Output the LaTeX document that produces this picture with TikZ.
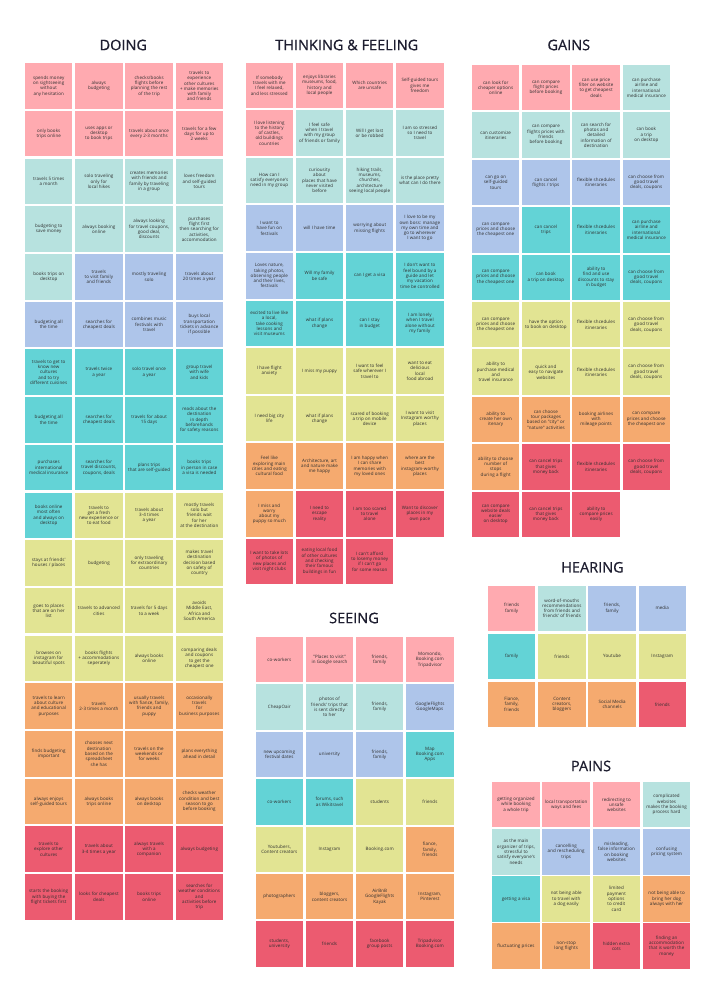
\documentclass[tikz,border=0pt]{standalone}
\usepackage{fontspec}
\setmainfont{Open Sans}
\newfontfamily\stickyfont[LetterSpace=1.5]{Open Sans}
\newfontfamily\titlefont[FakeBold=0.6]{Open Sans}
\definecolor{cpink}{HTML}{FFAAB0}
\definecolor{cmint}{HTML}{B7E2DF}
\definecolor{cblue}{HTML}{AEC5EA}
\definecolor{ccyan}{HTML}{63D3D6}
\definecolor{cyel}{HTML}{E2E493}
\definecolor{corg}{HTML}{F5AA6F}
\definecolor{cred}{HTML}{EC5B70}
\definecolor{ctxt}{HTML}{2E2E2E}
\definecolor{ctitle}{HTML}{1E1E30}
\tikzset{
  sticky/.style={minimum width=47.5pt, minimum height=45.5pt, inner sep=0pt, align=center,
    font=\stickyfont\fontsize{4.5}{5.3}\selectfont, text=ctxt},
  sectitle/.style={font=\titlefont\fontsize{14.5}{17}\selectfont, text=ctitle, inner sep=0pt}
}
\newcommand\stk[5]{\node[sticky, fill=#4] (#1) at ({\ox+50.2*#2},{\oy+\py*#3}) {#5};}
\begin{document}
\begin{tikzpicture}[x=1pt,y=-1pt]
\useasboundingbox[fill=white] (0,0) rectangle (727,1001);
% titles
\node[sectitle] (tdoing) at (123.3,45) {DOING};
\node[sectitle] (tthink) at (346.8,45) {THINKING \& FEELING};
\node[sectitle] (tgains) at (568.8,45) {GAINS};
\node[sectitle] (thear) at (592.5,567.3) {HEARING};
\node[sectitle] (tsee) at (354,618) {SEEING};
\node[sectitle] (tpains) at (591,766) {PAINS};
% ================= DOING
\def\ox{48.7}\def\oy{86}\def\py{47.7}
\stk{d0a}{0}{0}{cpink}{spends money\\on sightseeing\\without\\any hesitation}
\stk{d0b}{1}{0}{cpink}{always\\budgeting}
\stk{d0c}{2}{0}{cpink}{checks/books\\flights before\\planning the rest\\of the trip}
\stk{d0d}{3}{0}{cpink}{travels to\\experience\\other cultures\\+ make memories\\with family\\and friends}
\stk{d1a}{0}{1}{cpink}{only books\\trips online}
\stk{d1b}{1}{1}{cpink}{uses apps or\\desktop\\to book trips}
\stk{d1c}{2}{1}{cpink}{travels about once\\every 2-3 months}
\stk{d1d}{3}{1}{cpink}{travels for a few\\days for up to\\2 weeks}
\stk{d2a}{0}{2}{cmint}{travels 5 times\\a month}
\stk{d2b}{1}{2}{cmint}{solo traveling\\only for\\local hikes}
\stk{d2c}{2}{2}{cmint}{creates memories\\with friends and\\family by traveling\\in a group}
\stk{d2d}{3}{2}{cmint}{loves freedom\\and self-guided\\tours}
\stk{d3a}{0}{3}{cmint}{budgeting to\\save money}
\stk{d3b}{1}{3}{cmint}{always booking\\online}
\stk{d3c}{2}{3}{cmint}{always looking\\for travel coupons,\\good deal,\\discounts}
\stk{d3d}{3}{3}{cmint}{purchases\\flight first\\then searching for\\activities,\\accommodation}
\stk{d4a}{0}{4}{cmint}{books trips on\\desktop}
\stk{d4b}{1}{4}{cblue}{travels\\to visit family\\and friends}
\stk{d4c}{2}{4}{cblue}{mostly traveling\\solo}
\stk{d4d}{3}{4}{cblue}{travels about\\20 times a year}
\stk{d5a}{0}{5}{cblue}{budgeting all\\the time}
\stk{d5b}{1}{5}{cblue}{searches for\\cheapest deals}
\stk{d5c}{2}{5}{cblue}{combines music\\festivals with\\travel}
\stk{d5d}{3}{5}{cblue}{buys local\\transportation\\tickets in advance\\if possible}
\stk{d6a}{0}{6}{ccyan}{travels to get to\\know new\\cultures\\and to try\\different cuisines}
\stk{d6b}{1}{6}{ccyan}{travels twice\\a year}
\stk{d6c}{2}{6}{ccyan}{solo travel once\\a year}
\stk{d6d}{3}{6}{ccyan}{group travel\\with wife\\and kids}
\stk{d7a}{0}{7}{ccyan}{budgeting all\\the time}
\stk{d7b}{1}{7}{ccyan}{searches for\\cheapest deals}
\stk{d7c}{2}{7}{ccyan}{travels for about\\15 days}
\stk{d7d}{3}{7}{ccyan}{reads about the\\destination\\in depth\\beforehands\\for safety reasons}
\stk{d8a}{0}{8}{ccyan}{purchases\\international\\medical insurance}
\stk{d8b}{1}{8}{ccyan}{searches for\\travel discounts,\\coupons, deals}
\stk{d8c}{2}{8}{ccyan}{plans trips\\that are self-guided}
\stk{d8d}{3}{8}{ccyan}{books trips\\in person in case\\a visa is needed}
\stk{d9a}{0}{9}{ccyan}{books online\\most often\\and always on\\desktop}
\stk{d9b}{1}{9}{cyel}{travels to\\get a fresh\\new experience or\\to eat food}
\stk{d9c}{2}{9}{cyel}{travels about\\3-4 times\\a year}
\stk{d9d}{3}{9}{cyel}{mostly travels\\solo but\\friends wait\\for her\\at the destination}
\stk{d10a}{0}{10}{cyel}{stays at friends'\\houses / places}
\stk{d10b}{1}{10}{cyel}{budgeting}
\stk{d10c}{2}{10}{cyel}{only traveling\\for extraordinary\\countries}
\stk{d10d}{3}{10}{cyel}{makes travel\\destination\\decision based\\on safety of\\country}
\stk{d11a}{0}{11}{cyel}{goes to places\\that are on her\\list}
\stk{d11b}{1}{11}{cyel}{travels to advanced\\cities}
\stk{d11c}{2}{11}{cyel}{travels for 5 days\\to a week}
\stk{d11d}{3}{11}{cyel}{avoids\\Middle East,\\Africa and\\South America}
\stk{d12a}{0}{12}{cyel}{browses on\\instagram for\\beautiful spots}
\stk{d12b}{1}{12}{cyel}{books flights\\+ accommodations\\seperately}
\stk{d12c}{2}{12}{cyel}{always books\\online}
\stk{d12d}{3}{12}{cyel}{comparing deals\\and coupons\\to get the\\cheapest one}
\stk{d13a}{0}{13}{corg}{travels to learn\\about culture\\and educational\\purposes}
\stk{d13b}{1}{13}{corg}{travels\\2-3 times a month}
\stk{d13c}{2}{13}{corg}{usually travels\\with fiance, family,\\friends and\\puppy}
\stk{d13d}{3}{13}{corg}{occasionally\\travels\\for\\business purposes}
\stk{d14a}{0}{14}{corg}{finds budgeting\\important}
\stk{d14b}{1}{14}{corg}{chooses next\\destination\\based on the\\spreadsheet\\she has}
\stk{d14c}{2}{14}{corg}{travels on the\\weekends or\\for weeks}
\stk{d14d}{3}{14}{corg}{plans everything\\ahead in detail}
\stk{d15a}{0}{15}{corg}{always enjoys\\self-guided tours}
\stk{d15b}{1}{15}{corg}{always books\\trips online}
\stk{d15c}{2}{15}{corg}{always books\\on desktop}
\stk{d15d}{3}{15}{corg}{checks weather\\condition and best\\season to go\\before booking}
\stk{d16a}{0}{16}{cred}{travels to\\explore other\\cultures}
\stk{d16b}{1}{16}{cred}{travels about\\3-4 times a year}
\stk{d16c}{2}{16}{cred}{always travels\\with a\\companion}
\stk{d16d}{3}{16}{cred}{always budgeting}
\stk{d17a}{0}{17}{cred}{starts the booking\\with buying the\\flight tickets first}
\stk{d17b}{1}{17}{cred}{looks for cheapest\\deals}
\stk{d17c}{2}{17}{cred}{books trips\\online}
\stk{d17d}{3}{17}{cred}{searches for\\weather conditions\\and\\activities before\\trip}
% ================= THINKING & FEELING
\def\ox{269.3}\def\oy{85.4}\def\py{47.6}
\stk{t0a}{0}{0}{cpink}{If somebody\\travels with me\\I feel relaxed,\\and less stressed}
\stk{t0b}{1}{0}{cpink}{enjoys libraries\\museums, food,\\history and\\local people}
\stk{t0c}{2}{0}{cpink}{Which countries\\are unsafe}
\stk{t0d}{3}{0}{cpink}{Self-guided tours\\gives me\\freedom}
\stk{t1a}{0}{1}{cpink}{I love listening\\to the history\\of castles,\\old buildings\\countries}
\stk{t1b}{1}{1}{cmint}{I feel safe\\when I travel\\with my group\\of friends or family}
\stk{t1c}{2}{1}{cmint}{Will I get lost\\or be robbed}
\stk{t1d}{3}{1}{cmint}{I am so stressed\\so I need to\\travel}
\stk{t2a}{0}{2}{cmint}{How can I\\satisfy everyone's\\need in my group}
\stk{t2b}{1}{2}{cmint}{curiousity\\about\\places that have\\never visited\\before}
\stk{t2c}{2}{2}{cmint}{hiking trails,\\museums,\\churches,\\architecture\\seeing local people}
\stk{t2d}{3}{2}{cmint}{is the place pretty\\what can I do there}
\stk{t3a}{0}{3}{cblue}{I want to\\have fun on\\festivals}
\stk{t3b}{1}{3}{cblue}{will I have time}
\stk{t3c}{2}{3}{cblue}{worrying about\\missing flights}
\stk{t3d}{3}{3}{cblue}{I love to be my\\own boss: manage\\my own time and\\go to wherever\\I want to go}
\stk{t4a}{0}{4}{cblue}{Loves nature,\\taking photos,\\observing people\\and their lives,\\festivals}
\stk{t4b}{1}{4}{ccyan}{Will my family\\be safe}
\stk{t4c}{2}{4}{ccyan}{can I get a visa}
\stk{t4d}{3}{4}{ccyan}{I don't want to\\feel bound by a\\guide and let\\my vacation\\time be controlled}
\stk{t5a}{0}{5}{ccyan}{excited to live like\\a local,\\take cooking\\lessons and\\visit museums}
\stk{t5b}{1}{5}{ccyan}{what if plans\\change}
\stk{t5c}{2}{5}{ccyan}{can I stay\\in budget}
\stk{t5d}{3}{5}{ccyan}{I am lonely\\when I travel\\alone without\\my family}
\stk{t6a}{0}{6}{cyel}{I have flight\\anxiety}
\stk{t6b}{1}{6}{cyel}{I miss my puppy}
\stk{t6c}{2}{6}{cyel}{I want to feel\\safe wherever I\\travel to}
\stk{t6d}{3}{6}{cyel}{want to eat\\delicious\\local\\food abroad}
\stk{t7a}{0}{7}{cyel}{I need big city\\life}
\stk{t7b}{1}{7}{cyel}{what if plans\\change}
\stk{t7c}{2}{7}{cyel}{scared of booking\\a trip on mobile\\device}
\stk{t7d}{3}{7}{cyel}{I want to visit\\Instagram worthy\\places}
\stk{t8a}{0}{8}{corg}{Feel like\\exploring main\\cities and eating\\cultural food}
\stk{t8b}{1}{8}{corg}{Architecture, art\\and nature make\\me happy}
\stk{t8c}{2}{8}{corg}{I am happy when\\I can share\\memories with\\my loved ones}
\stk{t8d}{3}{8}{corg}{where are the\\best\\instagram-worthy\\places}
\stk{t9a}{0}{9}{corg}{I miss and\\worry\\about my\\puppy so much}
\stk{t9b}{1}{9}{cred}{I need to\\escape\\reality}
\stk{t9c}{2}{9}{cred}{I am too scared\\to travel\\alone}
\stk{t9d}{3}{9}{cred}{Want to discover\\places in my\\own pace}
\stk{t10a}{0}{10}{cred}{I want to take lots\\of photos of\\new places and\\visit night clubs}
\stk{t10b}{1}{10}{cred}{eating local food\\of other cultures\\and checking\\their famous\\buildings in fun}
\stk{t10c}{2}{10}{cred}{I can't afford\\to losemy money\\if I can't go\\for some reason}
% ================= GAINS
\def\ox{495.7}\def\oy{87.7}\def\py{47.4}
\stk{g0a}{0}{0}{cpink}{can look for\\cheaper options\\online}
\stk{g0b}{1}{0}{cpink}{can compare\\flight prices\\before booking}
\stk{g0c}{2}{0}{cpink}{can use price\\filter on website\\to get cheapest\\deals}
\stk{g0d}{3}{0}{cmint}{can purchase\\airline and\\international\\medical insurance}
\stk{g1a}{0}{1}{cmint}{can customize\\itineraries}
\stk{g1b}{1}{1}{cmint}{can compare\\flights prices with\\friends\\before booking}
\stk{g1c}{2}{1}{cmint}{can search for\\photos and\\detailed\\information of\\destination}
\stk{g1d}{3}{1}{cmint}{can book\\a trip\\on desktop}
\stk{g2a}{0}{2}{cblue}{can go on\\self-guided\\tours}
\stk{g2b}{1}{2}{cblue}{can cancel\\flights / trips}
\stk{g2c}{2}{2}{cblue}{flexible shcedules\\itineraries}
\stk{g2d}{3}{2}{cblue}{can choose from\\good travel\\deals, coupons}
\stk{g3a}{0}{3}{cblue}{can compare\\prices and choose\\the cheapest one}
\stk{g3b}{1}{3}{ccyan}{can cancel\\trips}
\stk{g3c}{2}{3}{ccyan}{flexible shcedules\\itineraries}
\stk{g3d}{3}{3}{ccyan}{can purchase\\airline and\\international\\medical insurance}
\stk{g4a}{0}{4}{ccyan}{can compare\\prices and choose\\the cheapest one}
\stk{g4b}{1}{4}{ccyan}{can book\\a trip on desktop}
\stk{g4c}{2}{4}{ccyan}{ability to\\find and use\\discounts to stay\\in budget}
\stk{g4d}{3}{4}{ccyan}{can choose from\\good travel\\deals, coupons}
\stk{g5a}{0}{5}{cyel}{can compare\\prices and choose\\the cheapest one}
\stk{g5b}{1}{5}{cyel}{have the option\\to book on desktop}
\stk{g5c}{2}{5}{cyel}{flexible shcedules\\itineraries}
\stk{g5d}{3}{5}{cyel}{can choose from\\good travel\\deals, coupons}
\stk{g6a}{0}{6}{cyel}{ability to\\purchase medical\\and\\travel insurance}
\stk{g6b}{1}{6}{cyel}{quick and\\easy to navigate\\websites}
\stk{g6c}{2}{6}{cyel}{flexible shcedules\\itineraries}
\stk{g6d}{3}{6}{cyel}{can choose from\\good travel\\deals, coupons}
\stk{g7a}{0}{7}{corg}{ability to\\create her own\\itenary}
\stk{g7b}{1}{7}{corg}{can choose\\tour packages\\based on "city" or\\"nature" activities}
\stk{g7c}{2}{7}{corg}{booking airlines\\with\\mileage points}
\stk{g7d}{3}{7}{corg}{can compare\\prices and choose\\the cheapest one}
\stk{g8a}{0}{8}{corg}{ability to choose\\number of\\stops\\during a flight}
\stk{g8b}{1}{8}{cred}{can cancel trips\\that gives\\money back}
\stk{g8c}{2}{8}{cred}{flexible shcedules\\itineraries}
\stk{g8d}{3}{8}{cred}{can choose from\\good travel\\deals, coupons}
\stk{g9a}{0}{9}{cred}{can compare\\website deals\\easier\\on desktop}
\stk{g9b}{1}{9}{cred}{can cancel trips\\that gives\\money back}
\stk{g9c}{2}{9}{cred}{ability to\\compare prices\\easily}
% ================= HEARING
\def\ox{511.7}\def\oy{608.3}\def\py{48}
\stk{h0a}{0}{0}{cpink}{friends\\family}
\stk{h0b}{1}{0}{cmint}{word-of-mouths\\recommendations\\from friends and\\friends' of friends}
\stk{h0c}{2}{0}{cblue}{friends,\\family}
\stk{h0d}{3}{0}{cblue}{media}
\stk{h1a}{0}{1}{ccyan}{family}
\stk{h1b}{1}{1}{cyel}{friends}
\stk{h1c}{2}{1}{cyel}{Youtube}
\stk{h1d}{3}{1}{cyel}{Instagram}
\stk{h2a}{0}{2}{corg}{Fiance,\\family,\\friends}
\stk{h2b}{1}{2}{corg}{Content\\creators,\\bloggers}
\stk{h2c}{2}{2}{corg}{Social Media\\channels}
\stk{h2d}{3}{2}{cred}{friends}
% ================= SEEING
\def\ox{279.3}\def\oy{659.7}\def\py{47.4}
\stk{s0a}{0}{0}{cpink}{co-workers}
\stk{s0b}{1}{0}{cpink}{"Places to visit"\\in Google search}
\stk{s0c}{2}{0}{cpink}{friends,\\family}
\stk{s0d}{3}{0}{cpink}{Momondo,\\Booking.com\\Tripadvisor}
\stk{s1a}{0}{1}{cmint}{CheapOair}
\stk{s1b}{1}{1}{cmint}{photos of\\friends' trips that\\is sent directly\\to her}
\stk{s1c}{2}{1}{cmint}{friends,\\family}
\stk{s1d}{3}{1}{cblue}{GoogleFlights\\GoogleMaps}
\stk{s2a}{0}{2}{cblue}{new upcoming\\festival dates}
\stk{s2b}{1}{2}{cblue}{university}
\stk{s2c}{2}{2}{cblue}{friends,\\family}
\stk{s2d}{3}{2}{ccyan}{Map\\Booking.com\\Apps}
\stk{s3a}{0}{3}{ccyan}{co-workers}
\stk{s3b}{1}{3}{ccyan}{forums, such\\as Wikitravel}
\stk{s3c}{2}{3}{cyel}{students}
\stk{s3d}{3}{3}{cyel}{friends}
\stk{s4a}{0}{4}{cyel}{Youtubers,\\Content creators}
\stk{s4b}{1}{4}{cyel}{Instagram}
\stk{s4c}{2}{4}{cyel}{Booking.com}
\stk{s4d}{3}{4}{corg}{fiance,\\family,\\friends}
\stk{s5a}{0}{5}{corg}{photographers}
\stk{s5b}{1}{5}{corg}{bloggers,\\content creators}
\stk{s5c}{2}{5}{corg}{AirBnB\\GoogleFlights\\Kayak}
\stk{s5d}{3}{5}{corg}{Instagram,\\Pinterest}
\stk{s6a}{0}{6}{cred}{students,\\university}
\stk{s6b}{1}{6}{cred}{friends}
\stk{s6c}{2}{6}{cred}{facebook\\group posts}
\stk{s6d}{3}{6}{cred}{Tripadvisor\\Booking.com}
% ================= PAINS
\def\ox{516}\def\oy{804.7}\def\py{47.1}
\stk{p0a}{0}{0}{cpink}{getting organized\\while booking\\a whole trip}
\stk{p0b}{1}{0}{cpink}{local transportation\\ways and fees}
\stk{p0c}{2}{0}{cpink}{redirecting to\\unsafe\\websites}
\stk{p0d}{3}{0}{cmint}{complicated\\websites\\makes the booking\\process hard}
\stk{p1a}{0}{1}{cmint}{as the main\\organizer of trips,\\stressful to\\satisfy everyone's\\needs}
\stk{p1b}{1}{1}{cblue}{cancelling\\and rescheduling\\trips}
\stk{p1c}{2}{1}{cblue}{misleading,\\false information\\on booking\\websites}
\stk{p1d}{3}{1}{cblue}{confusing\\pricing system}
\stk{p2a}{0}{2}{ccyan}{getting a visa}
\stk{p2b}{1}{2}{cyel}{not being able\\to travel with\\a dog easily}
\stk{p2c}{2}{2}{cyel}{limited\\payment\\options\\to credit\\card}
\stk{p2d}{3}{2}{corg}{not being able to\\bring her dog\\always with her}
\stk{p3a}{0}{3}{corg}{fluctuating prices}
\stk{p3b}{1}{3}{corg}{non-stop\\long flights}
\stk{p3c}{2}{3}{cred}{hidden extra\\cots}
\stk{p3d}{3}{3}{cred}{finding an\\accommodation\\that is worth the\\money}
\end{tikzpicture}
\end{document}
